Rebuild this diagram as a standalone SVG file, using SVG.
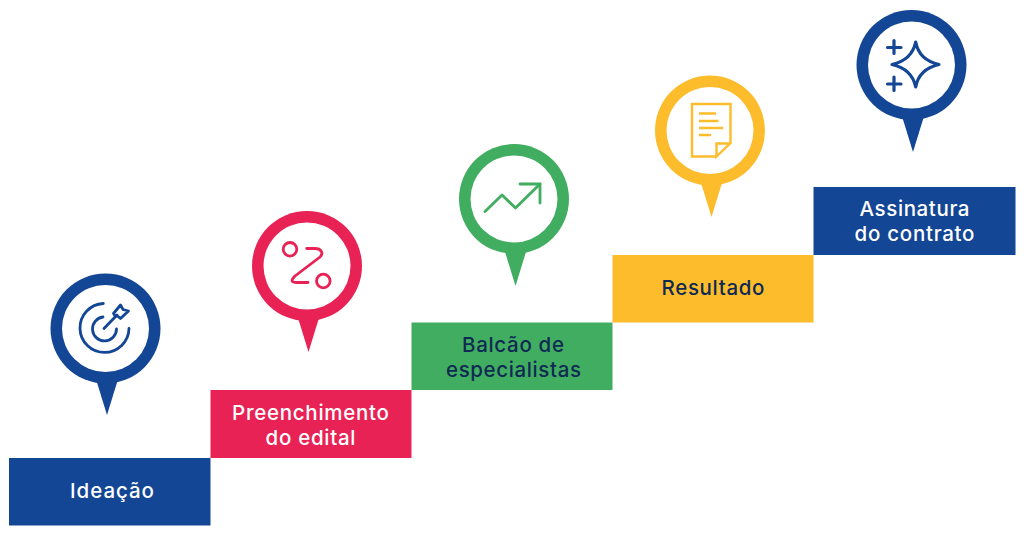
<svg xmlns="http://www.w3.org/2000/svg" width="1024" height="535" viewBox="0 0 1024 535">
<style>
.lbl{font-family:"Inter","Noto Sans",sans-serif;font-weight:500;font-size:20.5px;text-anchor:middle}
.w{fill:#fff}.d{fill:#0f2a52}
.blue{fill:#134694}.red{fill:#e92255}.green{fill:#41ad61}.yellow{fill:#fdbc2c}
.hole{fill:#fff}
.ic{fill:none;stroke-width:2.8;stroke-linecap:round;stroke-linejoin:round}
.icb{stroke:#134694}.icr{stroke:#e92255}.icg{stroke:#41ad61}.icy{stroke:#fdbc2c}
.star{stroke-width:3.2}
.icy{stroke-width:2.4;stroke-linecap:butt}
</style>
<rect width="1024" height="535" fill="#fff"/>
<g id="step-ideacao">
<rect class="blue" x="9" y="458" width="201.500" height="67.500"/>
<text class="lbl w" x="112" y="498" textLength="84">Ideação</text>
<path class="blue" d="M95 376L107 415L119 376Z"/>
<circle class="blue" cx="105.500" cy="328.500" r="55"/><circle class="hole" cx="105.500" cy="328.500" r="43.500"/>
<g class="ic icb">
<path d="M103.300 303.500A24.500 24.500 0 1 0 129 328.500"/>
<path d="M103 317A12 12 0 1 0 116.500 329"/>
<path d="M104 328.500L117 315"/>
<path d="M115.500 316.500L113.500 313.500L120.500 305L123 309.500L128.500 311L120.500 318.500L117.500 316Z"/>
</g>
</g>
<g id="step-preenchimento">
<rect class="red" x="210.500" y="390" width="201" height="68"/>
<text class="lbl w" x="310.500" y="420" textLength="157">Preenchimento</text>
<text class="lbl w" x="310.500" y="445" textLength="90">do edital</text>
<path class="red" d="M296.500 313L308.500 352L320.500 313Z"/>
<circle class="red" cx="307" cy="266" r="55"/><circle class="hole" cx="307" cy="266" r="43.500"/>
<g class="ic icr">
<circle cx="290" cy="249.300" r="6.800"/><circle cx="323.300" cy="281" r="6.800"/>
<path d="M306.700 248.500H315C321 248.500 324 253 320 257L295 276C290 281 292 282.500 297 282.500H308"/>
</g>
</g>
<g id="step-balcao">
<rect class="green" x="411.500" y="322.500" width="201" height="67.500"/>
<text class="lbl d" x="513" y="352" textLength="102">Balcão de</text>
<text class="lbl d" x="513.500" y="377" textLength="135">especialistas</text>
<path class="green" d="M503.500 247L515.500 286L527.500 247Z"/>
<circle class="green" cx="514" cy="199" r="55"/><circle class="hole" cx="514" cy="199" r="43.500"/>
<g class="ic icg">
<path d="M485 211.500L502 195L515.500 208L540 184"/>
<path d="M520 184H540V203"/>
</g>
</g>
<g id="step-resultado">
<rect class="yellow" x="612.500" y="255" width="201" height="67.500"/>
<text class="lbl d" x="713" y="295" textLength="103">Resultado</text>
<path class="yellow" d="M699.500 178L711.500 217L723.500 178Z"/>
<circle class="yellow" cx="710" cy="130.500" r="55"/><circle class="hole" cx="710" cy="130.500" r="43.500"/>
<g class="ic icy">
<path stroke-linejoin="miter" d="M716.500 156.500H692V104H730.500V143L716.500 156.500V143.500H730.500"/>
<path d="M699 113.500H716M699 121H718.500M699 128H723M699 135H711"/>
</g>
</g>
<g id="step-assinatura">
<rect class="blue" x="813.500" y="187" width="202" height="68"/>
<text class="lbl w" x="914.500" y="216" textLength="110">Assinatura</text>
<text class="lbl w" x="914.500" y="241" textLength="120">do contrato</text>
<path class="blue" d="M901 113L913 152L925 113Z"/>
<circle class="blue" cx="911.500" cy="65" r="55"/><circle class="hole" cx="911.500" cy="65" r="43.500"/>
<g class="ic icb star">
<path d="M915.700 42Q919 60 939 64.500Q919 69 915.700 87Q912 69 892 64.500Q912 60 915.700 42Z"/>
<path d="M887.500 47.500H901M894 40.500V53.500M887.500 84H901M894 77V90.500"/>
</g>
</g>
</svg>
